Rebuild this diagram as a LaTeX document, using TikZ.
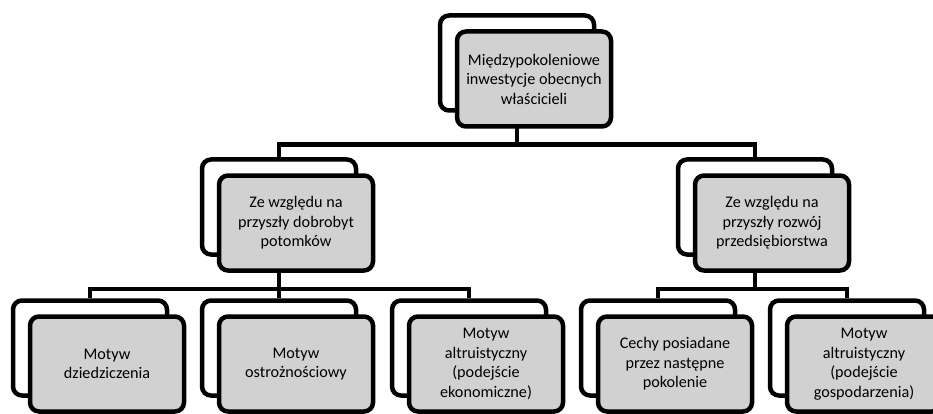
\documentclass[tikz,border=0pt]{standalone}
\usepackage{fontspec}
\setmainfont{Carlito}
\usetikzlibrary{backgrounds}
\begin{document}
\begin{tikzpicture}[x=1pt,y=-1pt]
    \tikzstyle{back}=[rectangle,rounded corners=9pt,draw=black,line width=4.5pt,fill=white,inner sep=0pt,minimum width=154pt,minimum height=95pt]
    \tikzstyle{front}=[back,fill=black!18,text=black,align=center,font=\fontsize{16.2}{19.5}\selectfont]
    \tikzstyle{link}=[draw=black,line width=4.5pt]
    \useasboundingbox (0,0) rectangle (933,414);

    \foreach \n/\x/\y in {0/517/63, 1/279/207, 2/755/207, 3/90/348, 4/279/348, 5/469/348, 6/658/348, 7/847/348}
        \node[back] (B-\n) at (\x,\y) {};

    \foreach \n/\t in {0/{Międzypokoleniowe\\inwestycje obecnych\\właścicieli},
                       1/{Ze względu na\\przyszły dobrobyt\\potomków},
                       2/{Ze względu na\\przyszły rozwój\\przedsiębiorstwa},
                       3/{Motyw\\dziedziczenia},
                       4/{Motyw\\ostrożnościowy},
                       5/{Motyw\\altruistyczny\\(podejście\\ekonomiczne)},
                       6/{Cechy posiadane\\przez następne\\pokolenie},
                       7/{Motyw\\altruistyczny\\(podejście\\gospodarzenia)}}
        \node[front] (F-\n) at ([shift={(17,16)}]B-\n.center) {\t};

    \begin{scope}[on background layer]
        \foreach \from/\to in {0/1, 0/2, 1/3, 1/4, 1/5, 2/6, 2/7}
            \draw[link] (B-\from.south) -- ++(0,32) -| (B-\to.north);
    \end{scope}
\end{tikzpicture}
\end{document}
